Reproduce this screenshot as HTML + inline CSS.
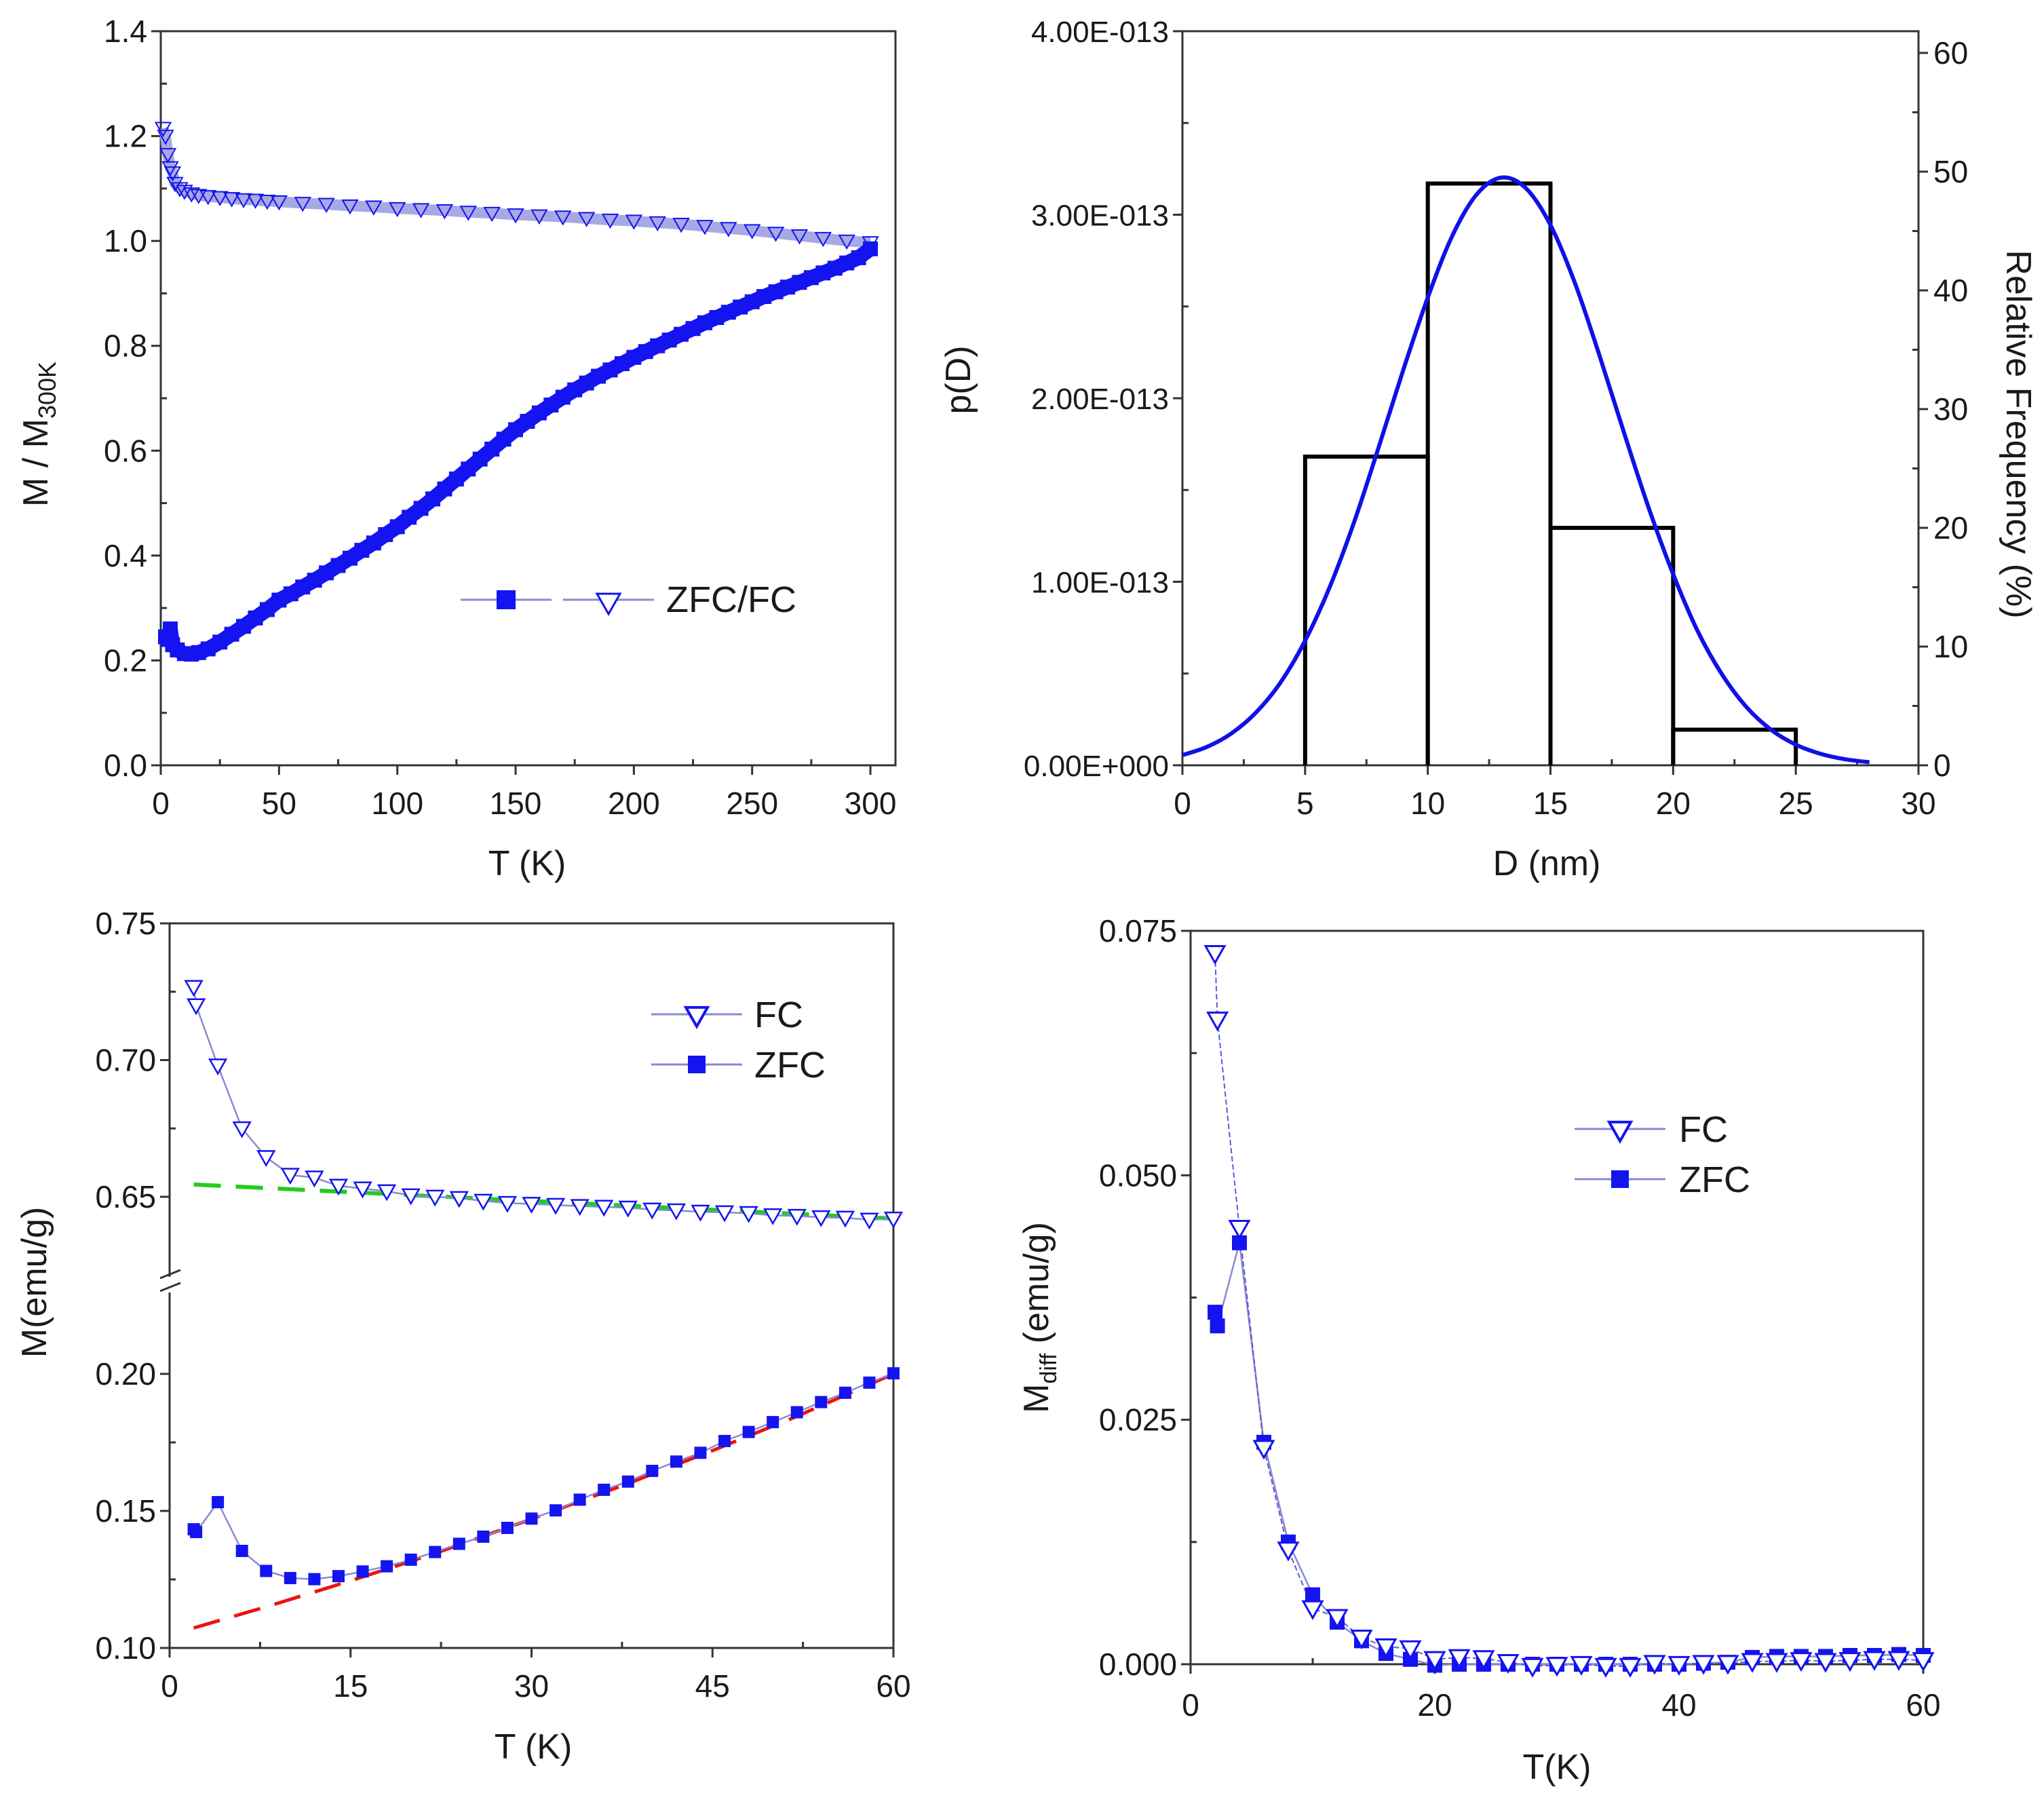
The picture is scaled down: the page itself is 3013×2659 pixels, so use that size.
<!DOCTYPE html>
<html><head><meta charset="utf-8">
<style>
html,body{margin:0;padding:0;background:#fff;}
svg{display:block;font-family:"Liberation Sans",Arial,sans-serif;}
</style></head>
<body>
<svg id="fig" xmlns="http://www.w3.org/2000/svg" width="3013" height="2659" viewBox="0 0 3013 2659"></svg>
<script>
// ---------- Panel A: ZFC/FC normalised ----------
const aZfcT = [2,3,4,5,7,10,13,16,20,25,30,35,40,45,50,55,60,65,70,75,80,85,90,95,100,105,110,115,120,125,130,135,140,145,150,155,160,165,170,175,180,185,190,195,200,205,210,215,220,225,230,235,240,245,250,255,260,265,270,275,280,285,290,295,300];
const aZfcM = [0.245,0.24,0.26,0.23,0.22,0.213,0.212,0.215,0.222,0.235,0.25,0.265,0.281,0.297,0.315,0.327,0.34,0.353,0.367,0.381,0.395,0.41,0.424,0.44,0.455,0.473,0.49,0.508,0.527,0.546,0.565,0.584,0.603,0.622,0.64,0.656,0.672,0.687,0.702,0.716,0.729,0.742,0.754,0.766,0.778,0.789,0.8,0.811,0.822,0.833,0.844,0.854,0.864,0.874,0.884,0.894,0.903,0.912,0.921,0.93,0.939,0.948,0.958,0.968,0.985];
const aFcT = [1,2,3,4,5,6,8,10,13,16,20,25,30,35,40,45,50,60,70,80,90,100,110,120,130,140,150,160,170,180,190,200,210,220,230,240,250,260,270,280,290,300];
const aFcM = [1.215,1.2,1.165,1.14,1.13,1.11,1.1,1.095,1.09,1.087,1.085,1.083,1.081,1.079,1.078,1.076,1.075,1.072,1.07,1.067,1.065,1.062,1.06,1.058,1.055,1.053,1.05,1.048,1.046,1.043,1.04,1.038,1.035,1.032,1.028,1.024,1.02,1.015,1.01,1.005,1.0,0.997];
const aXTicks = [0,50,100,150,200,250,300];
const aYTicks = [0.0,0.2,0.4,0.6,0.8,1.0,1.2,1.4];
const aYLabels = ["0.0","0.2","0.4","0.6","0.8","1.0","1.2","1.4"];

// ---------- Panel B: size distribution ----------
const bBinEdges = [5,10,15,20,25];
const bBinFreq = [26,49,20,3];
const bFitD = [0,1,2,3,4,5,6,7,8,9,10,11,12,13,14,15,16,17,18,19,20,21,22,23,24,25,26,27,28];
const bFitF = [0.86,1.55,2.69,4.45,6.98,10.5,15.0,20.5,26.8,33.3,39.4,44.6,48.1,49.5,48.6,45.5,40.6,34.5,28.0,21.7,16.1,11.3,7.63,4.88,2.98,1.74,0.97,0.51,0.26];
const bXTicks = [0,5,10,15,20,25,30];
const bLeftTicks = [0,1e-13,2e-13,3e-13,4e-13];
const bLeftLabels = ["0.00E+000","1.00E-013","2.00E-013","3.00E-013","4.00E-013"];
const bRightTicks = [0,10,20,30,40,50,60];

// ---------- Panel C: low T with broken axis ----------
const cT = [2,2.2,4,6,8,10,12,14,16,18,20,22,24,26,28,30,32,34,36,38,40,42,44,46,48,50,52,54,56,58,60];
const cFc = [0.7267,0.720,0.698,0.675,0.6645,0.658,0.657,0.654,0.653,0.652,0.6505,0.650,0.6495,0.6485,0.6477,0.6474,0.647,0.6466,0.6463,0.646,0.6453,0.645,0.6445,0.6443,0.644,0.6432,0.643,0.6425,0.6423,0.6416,0.642];
const cZfc = [0.1433,0.1423,0.1532,0.1354,0.1281,0.1255,0.1251,0.1262,0.1279,0.1298,0.1322,0.135,0.138,0.1406,0.1438,0.1472,0.1502,0.1541,0.1577,0.1607,0.1646,0.168,0.1712,0.1755,0.1788,0.1824,0.186,0.1897,0.1931,0.1968,0.2002];
const cGreenT = [2,60];
const cGreenM = [0.6545,0.642];
const cRedT = [2,8,15,22,30,38,45,52,60];
const cRedM = [0.1073,0.1150,0.1245,0.1345,0.1470,0.1600,0.1720,0.1845,0.2];
const cXTicks = [0,15,30,45,60];
const cYTicksUpper = [0.65,0.70,0.75];
const cYTicksLower = [0.10,0.15,0.20];

// ---------- Panel D: Mdiff ----------
const dT = [2,2.2,4,6,8,10,12,14,16,18,20,22,24,26,28,30,32,34,36,38,40,42,44,46,48,50,52,54,56,58,60];
const dFc = [0.0727,0.0659,0.0446,0.0221,0.0117,0.0057,0.0048,0.0027,0.0018,0.0016,0.0005,0.0007,0.0006,0.0002,-0.0002,-0.0001,0.0,-0.0002,-0.0002,0.0001,0.0,0.0001,0.0001,0.0003,0.0003,0.0004,0.0003,0.0004,0.0005,0.0005,0.0004];
const dZfc = [0.036,0.0346,0.0431,0.0227,0.0125,0.0071,0.0043,0.0024,0.0011,0.0005,-0.0001,0.0,0.0,0.0,0.0,0.0,0.0,0.0,0.0,0.0,0.0,0.0001,0.0002,0.0007,0.0008,0.0008,0.0008,0.0009,0.0009,0.001,0.0009];
const dXTicks = [0,20,40,60];
const dYTicks = [0,0.025,0.05,0.075];
const dYLabels = ["0.000","0.025","0.050","0.075"];

const NS = "http://www.w3.org/2000/svg";
const svg = document.getElementById('fig');
const BLUE = "#1414f0", LINE = "#8a8ad0", TXT = "#1a1a1a";
function mk(tag, attrs, parent){
  const e = document.createElementNS(NS, tag);
  for (const k in attrs) e.setAttribute(k, attrs[k]);
  (parent||svg).appendChild(e);
  return e;
}
function txt(s, x, y, size, anchor, parent, rot){
  const t = mk('text', {x:x, y:y, 'font-size':size, 'text-anchor':anchor||'middle', fill:TXT}, parent);
  if (rot) t.setAttribute('transform', 'rotate('+rot+' '+x+' '+y+')');
  t.textContent = s;
  return t;
}
function lin(d0,d1,p0,p1){ return v => p0 + (v-d0)/(d1-d0)*(p1-p0); }
function square(x,y,s,g){ return mk('rect',{x:x-s/2,y:y-s/2,width:s,height:s,fill:BLUE},g); }
function tri(x,y,s,g,sw){ return mk('path',{d:'M'+(x-s/2)+' '+(y-s*0.38)+' L'+(x+s/2)+' '+(y-s*0.38)+' L'+x+' '+(y+s*0.5)+' Z',fill:'#fff',stroke:BLUE,'stroke-width':sw||3},g); }
function polyline(xs, ys, fx, fy, g, attrs){
  const pts = xs.map((v,i)=>fx(v).toFixed(1)+','+fy(ys[i]).toFixed(1)).join(' ');
  return mk('polyline', Object.assign({points:pts, fill:'none'}, attrs), g);
}

// ===== Panel A =====
(function(){
  const L=237,R=1320,T=46,B=1128;
  const fx = lin(0,310.6,L,R), fy = lin(0,1.4,B,T);
  const g = mk('g',{});  
  mk('rect',{x:L,y:T,width:R-L,height:B-T,fill:'none',stroke:'#333','stroke-width':3},g);
  aXTicks.forEach(v=>{ mk('line',{x1:fx(v),y1:B,x2:fx(v),y2:B+14,stroke:'#333','stroke-width':3},g); txt(String(v),fx(v),B+72,46,'middle',g); });
  for(let v=25; v<310; v+=50) mk('line',{x1:fx(v),y1:B,x2:fx(v),y2:B-9,stroke:'#333','stroke-width':3},g);
  aYTicks.forEach((v,i)=>{ mk('line',{x1:L-14,y1:fy(v),x2:L,y2:fy(v),stroke:'#333','stroke-width':3},g); txt(aYLabels[i],L-20,fy(v)+16,46,'end',g); });
  for(let v=0.1; v<1.4; v+=0.2) mk('line',{x1:L,y1:fy(v),x2:L+9,y2:fy(v),stroke:'#333','stroke-width':3},g);
  const xt = txt('T (K)',777,1290,52,'middle',g);  
  const yt = mk('text',{x:0,y:0,'font-size':52,'text-anchor':'middle',fill:TXT,transform:'translate(70 640) rotate(-90)'},g);
   
  yt.innerHTML = 'M / M<tspan font-size="36" dy="12">300K</tspan>';
  const fb = polyline(aFcT,aFcM,fx,fy,g,{stroke:'#a8a8e4','stroke-width':16,'stroke-linejoin':'round'});
   
  const zb = polyline(aZfcT,aZfcM,fx,fy,g,{stroke:BLUE,'stroke-width':22,'stroke-linejoin':'round'});
   
  aFcT.forEach((v,i)=>{ const m=tri(fx(v),fy(aFcM[i]),22,g,2); m.setAttribute('fill','none');   });
  aZfcT.forEach((v,i)=>{ const m=square(fx(v),fy(aZfcM[i]),22,g);   });
  const lg = mk('g',{},g);  
  mk('line',{x1:679,y1:884,x2:813,y2:884,stroke:LINE,'stroke-width':3},lg);
  square(746,884,28,lg);
  mk('line',{x1:830,y1:884,x2:964,y2:884,stroke:LINE,'stroke-width':3},lg);
  tri(897,888,34,lg,3);
  txt('ZFC/FC',982,902,54,'start',lg);
})();

// ===== Panel B =====
(function(){
  const L=1743,R=2828,T=46,B=1128;
  const fx = lin(0,30,L,R), fy = lin(0,4e-13,B,T), fr = lin(0,60,B,78);
  const g = mk('g',{});  
  mk('rect',{x:L,y:T,width:R-L,height:B-T,fill:'none',stroke:'#333','stroke-width':3},g);
  bXTicks.forEach(v=>{ mk('line',{x1:fx(v),y1:B,x2:fx(v),y2:B+14,stroke:'#333','stroke-width':3},g); txt(String(v),fx(v),B+72,46,'middle',g); });
  for(let v=2.5; v<30; v+=5) mk('line',{x1:fx(v),y1:B,x2:fx(v),y2:B-9,stroke:'#333','stroke-width':3},g);
  bLeftTicks.forEach((v,i)=>{ mk('line',{x1:L-14,y1:fy(v),x2:L,y2:fy(v),stroke:'#333','stroke-width':3},g); txt(bLeftLabels[i],L-20,fy(v)+16,44,'end',g); });
  for(let k=0;k<4;k++) mk('line',{x1:L,y1:fy((k+0.5)*1e-13),x2:L+9,y2:fy((k+0.5)*1e-13),stroke:'#333','stroke-width':3},g);
  bRightTicks.forEach(v=>{ mk('line',{x1:R,y1:fr(v),x2:R+14,y2:fr(v),stroke:'#333','stroke-width':3},g); txt(String(v),R+22,fr(v)+16,46,'start',g); });
  for(let v=5; v<60; v+=10) mk('line',{x1:R-9,y1:fr(v),x2:R,y2:fr(v),stroke:'#333','stroke-width':3},g);
  const xt = txt('D (nm)',2280,1290,52,'middle',g);  
  const yl = txt('p(D)',0,0,52,'middle',g); yl.setAttribute('transform','translate(1430 560) rotate(-90)');  
  const yr = txt('Relative Frequency (%)',0,0,52,'middle',g); yr.setAttribute('transform','translate(2958 640) rotate(90)');  
  bBinFreq.forEach((f,i)=>{
    const x0=fx(bBinEdges[i]), x1=fx(bBinEdges[i+1]), y=fr(f);
    const r = mk('path',{d:'M'+x0+' '+B+' L'+x0+' '+y+' L'+x1+' '+y+' L'+x1+' '+B,fill:'none',stroke:'#000','stroke-width':6},g);
     
  });
  const P = bFitD.map((d,i)=>[fx(d),fr(bFitF[i])]);
  let dstr = 'M'+P[0][0]+' '+P[0][1];
  for(let i=0;i<P.length-1;i++){
    const p0=P[Math.max(0,i-1)],p1=P[i],p2=P[i+1],p3=P[Math.min(P.length-1,i+2)];
    dstr += ' C'+(p1[0]+(p2[0]-p0[0])/6)+' '+(p1[1]+(p2[1]-p0[1])/6)+' '+(p2[0]-(p3[0]-p1[0])/6)+' '+(p2[1]-(p3[1]-p1[1])/6)+' '+p2[0]+' '+p2[1];
  }
  const c = mk('path',{d:dstr,fill:'none',stroke:'#1010e8','stroke-width':6},g);
   
})();

// ===== Panel C =====
(function(){
  const L=250,R=1317,T=1361,B=2429;
  const fx = lin(0,60,L,R);
  const fyU = lin(0.65,0.75,1764,1361), fyL = lin(0.10,0.20,2429,2025);
  const g = mk('g',{});  
  mk('path',{d:'M'+L+' 1882 L'+L+' '+T+' L'+R+' '+T+' L'+R+' '+B+' L'+L+' '+B+' L'+L+' 1905',fill:'none',stroke:'#333','stroke-width':3},g);
  const br = mk('path',{d:'M236 1884 L266 1872 M236 1903 L266 1891',stroke:'#333','stroke-width':3,fill:'none'},g);
   
  cXTicks.forEach(v=>{ mk('line',{x1:fx(v),y1:B,x2:fx(v),y2:B+14,stroke:'#333','stroke-width':3},g); txt(String(v),fx(v),B+72,46,'middle',g); });
  for(let v=7.5; v<60; v+=15) mk('line',{x1:fx(v),y1:B,x2:fx(v),y2:B-9,stroke:'#333','stroke-width':3},g);
  cYTicksUpper.forEach(v=>{ mk('line',{x1:L-14,y1:fyU(v),x2:L,y2:fyU(v),stroke:'#333','stroke-width':3},g); txt(v.toFixed(2),L-20,fyU(v)+16,46,'end',g); });
  cYTicksLower.forEach(v=>{ mk('line',{x1:L-14,y1:fyL(v),x2:L,y2:fyL(v),stroke:'#333','stroke-width':3},g); txt(v.toFixed(2),L-20,fyL(v)+16,46,'end',g); });
  [0.675,0.725].forEach(v=>mk('line',{x1:L,y1:fyU(v),x2:L+9,y2:fyU(v),stroke:'#333','stroke-width':3},g));
  [0.125,0.175].forEach(v=>mk('line',{x1:L,y1:fyL(v),x2:L+9,y2:fyL(v),stroke:'#333','stroke-width':3},g));
  const xt = txt('T (K)',786,2592,52,'middle',g);  
  const yt = txt('M(emu/g)',0,0,52,'middle',g); yt.setAttribute('transform','translate(68 1890) rotate(-90)');  
  const gl = polyline(cGreenT,cGreenM,fx,fyU,g,{stroke:'#22cc22','stroke-width':6,'stroke-dasharray':'40 22'});
   
  const rl = polyline(cRedT,cRedM,fx,fyL,g,{stroke:'#ee1111','stroke-width':5,'stroke-dasharray':'40 22'});
   
  polyline(cT,cFc,fx,fyU,g,{stroke:LINE,'stroke-width':2.5});
  polyline(cT,cZfc,fx,fyL,g,{stroke:LINE,'stroke-width':2.5});
  cT.forEach((v,i)=>{ const m=tri(fx(v),fyU(cFc[i]),24,g,2.5);   });
  cT.forEach((v,i)=>{ const m=square(fx(v),fyL(cZfc[i]),18,g);   });
  const lg = mk('g',{},g);  
  mk('line',{x1:960,y1:1495,x2:1094,y2:1495,stroke:LINE,'stroke-width':3},lg);
  tri(1027,1497,32,lg,4);
  txt('FC',1112,1514,54,'start',lg);
  mk('line',{x1:960,y1:1569,x2:1094,y2:1569,stroke:LINE,'stroke-width':3},lg);
  square(1027,1569,26,lg);
  txt('ZFC',1112,1588,54,'start',lg);
})();

// ===== Panel D =====
(function(){
  const L=1755,R=2835,T=1372,B=2453;
  const fx = lin(0,60,L,R), fy = lin(0,0.075,B,T);
  const g = mk('g',{});  
  mk('rect',{x:L,y:T,width:R-L,height:B-T,fill:'none',stroke:'#333','stroke-width':3},g);
  dXTicks.forEach(v=>{ mk('line',{x1:fx(v),y1:B,x2:fx(v),y2:B+14,stroke:'#333','stroke-width':3},g); txt(String(v),fx(v),B+76,46,'middle',g); });
  [10,30,50].forEach(v=>mk('line',{x1:fx(v),y1:B,x2:fx(v),y2:B-9,stroke:'#333','stroke-width':3},g));
  dYTicks.forEach((v,i)=>{ mk('line',{x1:L-14,y1:fy(v),x2:L,y2:fy(v),stroke:'#333','stroke-width':3},g); txt(dYLabels[i],L-20,fy(v)+16,46,'end',g); });
  [0.0125,0.0375,0.0625].forEach(v=>mk('line',{x1:L,y1:fy(v),x2:L+9,y2:fy(v),stroke:'#333','stroke-width':3},g));
  const xt = txt('T(K)',2295,2622,52,'middle',g);  
  const yt = mk('text',{x:0,y:0,'font-size':52,'text-anchor':'middle',fill:TXT,transform:'translate(1545 1942) rotate(-90)'},g);
   
  yt.innerHTML = 'M<tspan font-size="34" dy="12">diff</tspan><tspan dy="-12"> (emu/g)</tspan>';
  polyline(dT,dZfc,fx,fy,g,{stroke:LINE,'stroke-width':2.5});
  polyline(dT,dFc,fx,fy,g,{stroke:'#5a5ae0','stroke-width':2,'stroke-dasharray':'8 4'});
  dT.forEach((v,i)=>{ const m=square(fx(v),fy(dZfc[i]),22,g);   });
  dT.forEach((v,i)=>{ const m=tri(fx(v),fy(dFc[i]),28,g,3);   });
  const lg = mk('g',{},g);  
  mk('line',{x1:2321,y1:1664,x2:2455,y2:1664,stroke:LINE,'stroke-width':3},lg);
  tri(2388,1666,32,lg,4);
  txt('FC',2475,1683,54,'start',lg);
  mk('line',{x1:2321,y1:1738,x2:2455,y2:1738,stroke:LINE,'stroke-width':3},lg);
  square(2388,1738,26,lg);
  txt('ZFC',2475,1757,54,'start',lg);
})();
</script>
</body></html>
